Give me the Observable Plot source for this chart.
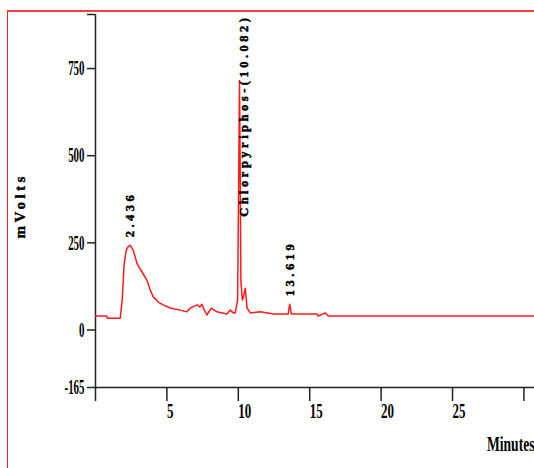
<!DOCTYPE html>
<html><head><meta charset="utf-8">
<script src="https://cdn.jsdelivr.net/npm/d3@7"></script>
<script src="https://cdn.jsdelivr.net/npm/@observablehq/plot@0.6"></script>
<style>
html,body{margin:0;padding:0;background:#fff;}
#wrap{position:relative;width:534px;height:468px;overflow:hidden;}
#wrap svg{display:block;position:absolute;left:0;top:0;}
#border{position:absolute;left:7px;top:10px;right:0;bottom:0;border-top:2px solid #ff3b3b;border-left:1.5px solid #ff2020;pointer-events:none;}
</style></head><body><div id="wrap"></div>
<script>
// Chromatogram trace (minutes, mV)
const times = [0, 0.8, 0.82, 1.73, 1.87, 2.0, 2.15, 2.3, 2.436, 2.64, 2.92, 3.25, 3.6, 3.83, 4.04, 4.4, 4.74, 5.23, 5.94, 6.4, 6.64, 6.85, 7.13, 7.3, 7.46, 7.62, 7.8, 8.1, 8.5, 9.2, 9.44, 9.65, 9.79, 9.95, 10.02, 10.082, 10.14, 10.18, 10.28, 10.39, 10.49, 10.61, 10.84, 11.54, 12.45, 13.49, 13.6, 13.71, 15.5, 15.6, 16.1, 16.3, 30.74];
const mvolts = [40, 40, 34, 34, 86, 186, 229, 240, 243, 229, 189, 167, 143, 115, 95, 80, 72, 63, 57, 52, 63, 67, 72, 66, 74, 57, 43, 63, 52, 46, 57, 49, 49, 86, 400, 716, 400, 143, 86, 100, 120, 63, 49, 52, 46, 46, 74, 46, 46, 40, 49, 40, 40];

// Peak annotations
const peakTimes = [2.436, 10.082, 13.619];
const peakHeights = [243, 716, 74];
const peakLabels = ["2.436", "Chlorpyriphos-(10.082)", "13.619"];

// Axes
const xTicks = [0, 5, 10, 15, 20, 25, 30];
const xTickLabels = ["", "5", "10", "15", "20", "25", ""];
const yTicks = [-165, 0, 250, 500, 750, 905];
const yTickLabels = ["-165", "0", "250", "500", "750", ""];
const xDomain = [0, 30.74];
const yDomain = [-165, 905];

const trace = times.map((t, i) => ({t, v: mvolts[i]}));
const peaks = peakTimes.map((t, i) => ({t, h: peakHeights[i], label: peakLabels[i]}));
const maxH = d3.max(peakHeights);
const smallPeaks = peaks.filter(p => p.h < maxH);
const bigPeaks = peaks.filter(p => p.h === maxH);

const chart = Plot.plot({
  width: 534, height: 468,
  marginLeft: 95, marginRight: 0, marginTop: 14, marginBottom: 81,
  style: {fontFamily: "'Liberation Serif', 'Times New Roman', serif", background: "transparent", color: "#000"},
  x: {domain: xDomain},
  y: {domain: yDomain},
  marks: [
    Plot.ruleX([0], {stroke: "#222", strokeWidth: 1.5}),
    Plot.ruleY([yDomain[0]], {stroke: "#222", strokeWidth: 1.5}),
    Plot.line(trace, {x: "t", y: "v", stroke: "#ff1a1a", strokeWidth: 1.5}),
    Plot.axisY({ticks: yTicks, tickFormat: d => yTickLabels[yTicks.indexOf(d)], tickSize: 8, tickPadding: 3,
      fontSize: 21, fontWeight: "bold", label: null, stroke: "#222", strokeWidth: 1.5}),
    Plot.axisX({ticks: xTicks, tickFormat: d => xTickLabels[xTicks.indexOf(d)], tickSize: 14, tickPadding: 2,
      fontSize: 20, fontWeight: "bold", textAnchor: "start", label: null, stroke: "#222", strokeWidth: 1.5}),
    Plot.text(smallPeaks, {x: "t", y: "h", text: "label", rotate: -90, textAnchor: "start", dy: -8,
      fontSize: 12.5, fontWeight: "bold", fill: "#000", stroke: "#000", strokeWidth: 0.5}),
    Plot.text(bigPeaks, {x: "t", text: "label", frameAnchor: "top", rotate: -90, textAnchor: "end",
      fontSize: 12.5, fontWeight: "bold", fill: "#000", stroke: "#000", strokeWidth: 0.5}),
    Plot.text(["mVolts"], {frameAnchor: "left", dx: -75.5, dy: 37.5, rotate: -90, fontSize: 15, fontWeight: "bold",
      fill: "#000", stroke: "#000", strokeWidth: 0.4}),
    Plot.text(["Minutes"], {frameAnchor: "bottom-right", textAnchor: "end", dy: 63, fontSize: 20, fontWeight: "bold", fill: "#000"})
  ]
});

function squeeze(el, s) {
  const tr = el.getAttribute("transform");
  if (tr) el.setAttribute("transform", tr + ` scale(${s},1)`);
  else {
    const x = +(el.getAttribute("x") || 0), y = +(el.getAttribute("y") || 0);
    el.removeAttribute("x"); el.removeAttribute("y");
    el.setAttribute("transform", `translate(${x},${y}) scale(${s},1)`);
  }
}
chart.querySelectorAll("text").forEach(el => {
  const s = el.textContent;
  if (yTickLabels.includes(s) && s !== "" && el.closest("g[aria-label='y-axis tick label']")) squeeze(el, 0.52);
  else if (el.closest("g[aria-label='x-axis tick label']")) squeeze(el, 0.65);
  else if (s === "Minutes") squeeze(el, 0.68);
  else if (peakLabels.includes(s)) el.setAttribute("letter-spacing", "3.5px");
  else if (s === "mVolts") el.setAttribute("letter-spacing", "3.5px");
});

const wrap = document.getElementById("wrap");
wrap.appendChild(chart);
const border = document.createElement("div");
border.id = "border";
wrap.appendChild(border);
</script></body></html>
